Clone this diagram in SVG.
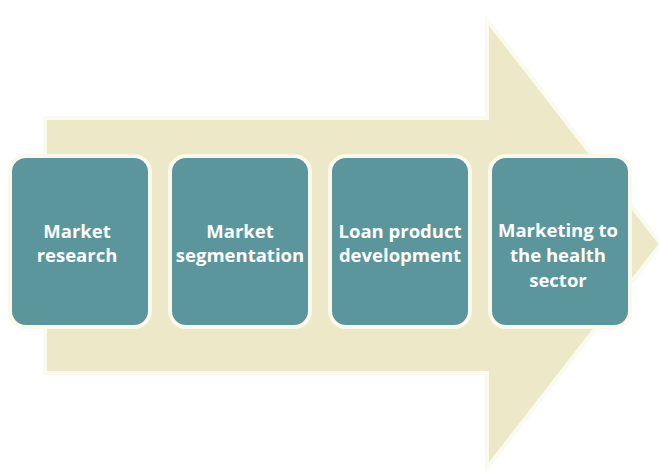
<svg xmlns="http://www.w3.org/2000/svg" width="659" height="471" viewBox="0 0 659 471">
<style>
.arrow{fill:#ede9c8;stroke:#fbfaee;stroke-width:4;stroke-linejoin:miter}
.card{fill:#5a969c;stroke:#fbf9ec;stroke-width:4}
.lbl{font-family:"Open Sans","Liberation Sans",sans-serif;font-weight:bold;font-size:18.5px;fill:#ffffff;text-anchor:middle}
</style>
<rect width="659" height="471" fill="#ffffff"/>
<g id="arrow">
<path class="arrow" d="M45 118 H487 V20 L661 244 L487 468 V373 H45 Z"/>
</g>
<g id="connectors"></g>
<g id="node1">
<rect class="card" x="10" y="156" width="140" height="171" rx="16"/>
<text class="lbl" x="77" y="238">Market</text>
<text class="lbl" x="77" y="262">research</text>
</g>
<g id="node2">
<rect class="card" x="170" y="156" width="140" height="171" rx="16"/>
<text class="lbl" x="240" y="238">Market</text>
<text class="lbl" x="240" y="262">segmentation</text>
</g>
<g id="node3">
<rect class="card" x="330" y="156" width="140" height="171" rx="16"/>
<text class="lbl" x="400" y="238">Loan product</text>
<text class="lbl" x="400" y="262">development</text>
</g>
<g id="node4">
<rect class="card" x="490" y="156" width="140" height="171" rx="16"/>
<text class="lbl" x="558" y="237">Marketing to</text>
<text class="lbl" x="558" y="262">the health</text>
<text class="lbl" x="558" y="287">sector</text>
</g>
</svg>
